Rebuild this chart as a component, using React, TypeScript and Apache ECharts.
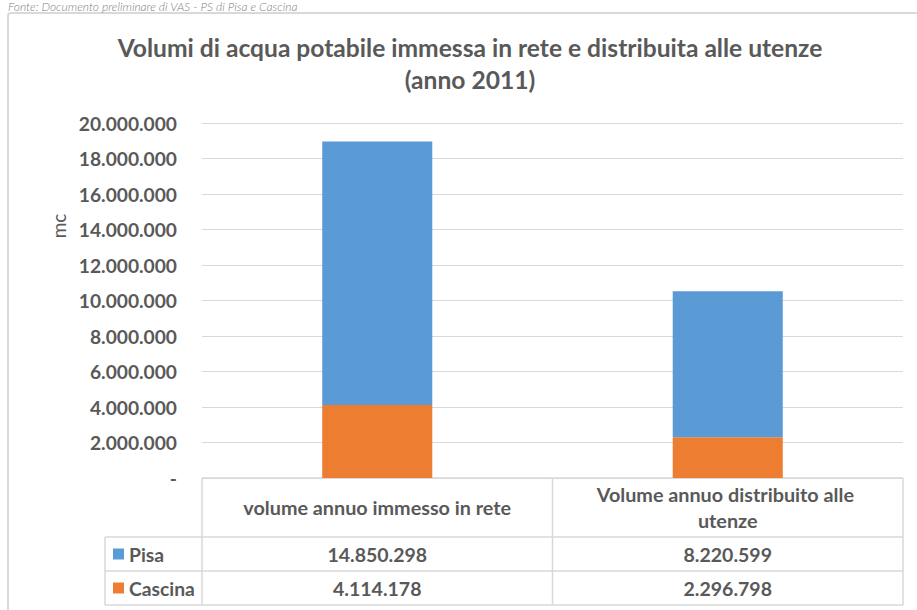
import React, { useEffect, useRef } from "react";
import * as echarts from "echarts";

const categories = ["volume annuo immesso in rete", "Volume annuo distribuito alle utenze"];
const seriesNames = ["Pisa", "Cascina"];
const pisaValues = [14850298, 8220599];
const cascinaValues = [4114178, 2296798];
const seriesColors = ["#5B9BD5", "#ED7D31"];
const titleLines = ["Volumi di acqua potabile immessa in rete e distribuita alle utenze", "(anno 2011)"];
const sourceNote = "Fonte: Documento preliminare di VAS - PS di Pisa e Cascina";
const yAxisName = "mc";

const FONT = "Lato";
const TXT = "#595959";
const LINE = "#D9D9D9";

const GRID_LEFT = 202;
const GRID_RIGHT = 14;
const GRID_TOP = 123;
const GRID_BOTTOM = 132;
const HEADER_H = 59;
const ROW_H = 34;
const KEY_LEFT = 105;

const fmt = (v: number) =>
  v === 0 ? "-" : Math.round(v).toString().replace(/\B(?=(\d{3})+(?!\d))/g, ".");

export default function App() {
  const ref = useRef<HTMLDivElement>(null);

  useEffect(() => {
    if (!ref.current) return;
    const chart = echarts.init(ref.current, null, { renderer: "svg" });
    const option: any = {
      animation: false,
      backgroundColor: "#ffffff",
      textStyle: { fontFamily: FONT },
      grid: { left: GRID_LEFT, right: GRID_RIGHT, top: GRID_TOP, bottom: GRID_BOTTOM, containLabel: false },
      xAxis: {
        type: "category",
        data: categories,
        axisLine: { show: false },
        axisTick: { show: false },
        axisLabel: {
          interval: 0,
          margin: 29,
          width: 290,
          overflow: "break",
          verticalAlign: "middle",
          lineHeight: 26,
          color: TXT,
          fontFamily: FONT,
          fontWeight: "bold",
          fontSize: 19.8,
        },
      },
      yAxis: {
        type: "value",
        min: 0,
        max: 20000000,
        interval: 2000000,
        axisLine: { show: false },
        axisTick: { show: false },
        axisLabel: {
          margin: 25,
          color: TXT,
          fontFamily: FONT,
          fontWeight: "bold",
          fontSize: 19.2,
          formatter: (v: number) => fmt(v),
        },
        splitLine: {
          lineStyle: { color: LINE, width: 1 },
        },
      },
      series: [
        {
          name: seriesNames[1],
          type: "bar",
          stack: "tot",
          data: cascinaValues,
          barWidth: "31.4%",
          itemStyle: { color: seriesColors[1] },
        },
        {
          name: seriesNames[0],
          type: "bar",
          stack: "tot",
          data: pisaValues,
          barWidth: "31.4%",
          itemStyle: { color: seriesColors[0] },
        },
      ],
    };
    chart.setOption(option);

    const xs = categories.map((c) => chart.convertToPixel({ xAxisIndex: 0 }, c) as number);
    const y0 = chart.convertToPixel({ yAxisIndex: 0 }, 0) as number;
    const W = chart.getWidth();
    const left = GRID_LEFT;
    const right = W - GRID_RIGHT;
    const mid = (xs[0] + xs[1]) / 2;
    const rowTop = y0 + HEADER_H;
    const lineStyle = { stroke: LINE, lineWidth: 1.5 };

    const graphics: any[] = [];
    graphics.push({
      type: "rect",
      shape: { x: 8, y: 13, width: 1000, height: 700, r: 3 },
      style: { fill: "none", stroke: LINE, lineWidth: 2 },
      silent: true,
      z: -1,
    });
    graphics.push({
      type: "text",
      x: 8,
      y: 0,
      style: {
        text: sourceNote,
        fill: "#808080",
        font: `italic 300 12px ${FONT}`,
        textAlign: "left",
        textVerticalAlign: "top",
      },
    });
    graphics.push({
      type: "text",
      x: 470,
      y: 31,
      style: {
        text: titleLines.join("\n"),
        fill: TXT,
        font: `bold 24.6px ${FONT}`,
        lineHeight: 32,
        textAlign: "center",
        textVerticalAlign: "top",
      },
    });
    // y axis name (placed where the reference puts it)
    graphics.push({
      type: "text",
      x: 58,
      y: 226,
      rotation: Math.PI / 2,
      style: {
        text: yAxisName,
        fill: TXT,
        font: `19px ${FONT}`,
        textAlign: "center",
        textVerticalAlign: "middle",
      },
    });
    const hLines = [
      { x1: left, x2: right, y: y0 },
      { x1: KEY_LEFT, x2: right, y: rowTop },
      { x1: KEY_LEFT, x2: right, y: rowTop + ROW_H },
      { x1: KEY_LEFT, x2: right, y: rowTop + 2 * ROW_H },
    ];
    hLines.forEach((l) =>
      graphics.push({ type: "line", shape: { x1: l.x1, y1: l.y, x2: l.x2, y2: l.y }, style: lineStyle, silent: true })
    );
    const vLines = [
      { x: KEY_LEFT, y1: rowTop, y2: rowTop + 2 * ROW_H },
      { x: left, y1: y0, y2: rowTop + 2 * ROW_H },
      { x: mid, y1: y0, y2: rowTop + 2 * ROW_H },
      { x: right, y1: y0, y2: rowTop + 2 * ROW_H },
    ];
    vLines.forEach((l) =>
      graphics.push({ type: "line", shape: { x1: l.x, y1: l.y1, x2: l.x, y2: l.y2 }, style: lineStyle, silent: true })
    );
    const rows = [
      { name: seriesNames[0], color: seriesColors[0], values: pisaValues },
      { name: seriesNames[1], color: seriesColors[1], values: cascinaValues },
    ];
    rows.forEach((r, i) => {
      const cy = rowTop + i * ROW_H + ROW_H / 2;
      graphics.push({
        type: "rect",
        shape: { x: 113, y: cy - 5.5, width: 11, height: 11 },
        style: { fill: r.color },
        silent: true,
      });
      graphics.push({
        type: "text",
        x: 129,
        y: cy,
        style: {
          text: r.name,
          fill: TXT,
          font: `bold 19.3px ${FONT}`,
          textAlign: "left",
          textVerticalAlign: "middle",
        },
      });
      r.values.forEach((v, j) => {
        graphics.push({
          type: "text",
          x: xs[j],
          y: cy,
          style: {
            text: fmt(v),
            fill: TXT,
            font: `bold 19.5px ${FONT}`,
            textAlign: "center",
            textVerticalAlign: "middle",
          },
        });
      });
    });
    chart.setOption({ graphic: graphics });

    return () => chart.dispose();
  }, []);

  return (
    <div
      ref={ref}
      style={{ position: "fixed", left: 0, top: 0, width: 917, height: 610, background: "#fff" }}
    />
  );
}
